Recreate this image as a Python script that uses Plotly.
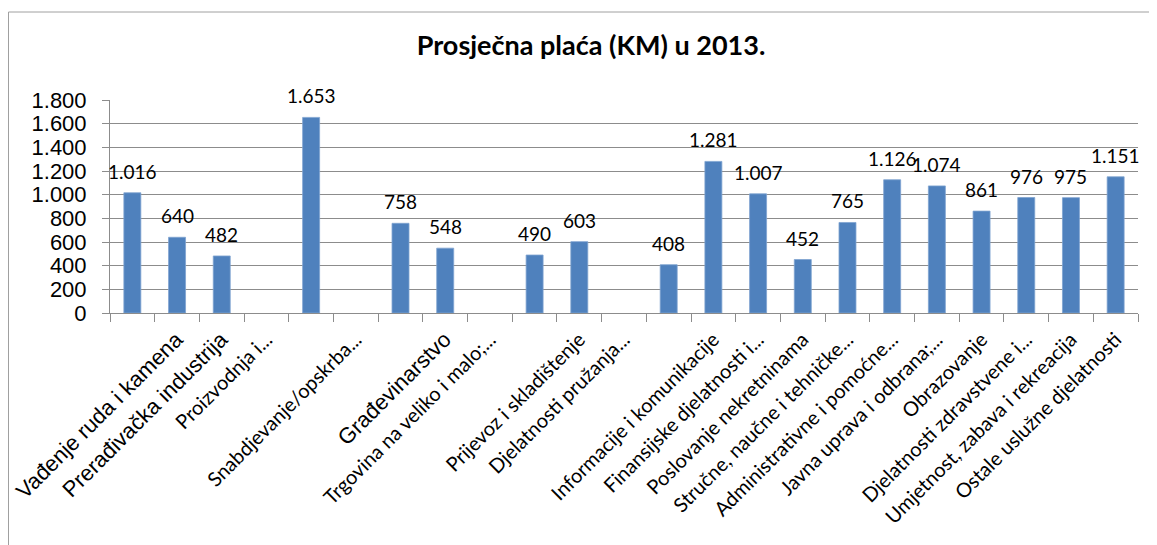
import plotly.graph_objects as go

# ---- data ----
slot_labels = [
    "", "Vađenje ruda i kamena", "Prerađivačka industrija", "Proizvodnja i...", "",
    "Snabdjevanje/opskrba...", "", "Građevinarstvo", "Trgovina na veliko i malo;...", "",
    "Prijevoz i skladištenje", "Djelatnosti pružanja...", "", "Informacije i komunikacije",
    "Finansijske djelatnosti i...", "Poslovanje nekretninama", "Stručne, naučne i tehničke...",
    "Administrativne i pomoćne...", "Javna uprava i odbrana;...", "Obrazovanje",
    "Djelatnosti zdravstvene i...", "Umjetnost, zabava i rekreacija", "Ostale uslužne djelatnosti",
]
values = [
    1016, 640, 482, None, 1653,
    None, 758, 548, None, 490,
    603, None, 408, 1281,
    1007, 452, 765,
    1126, 1074, 861,
    976, 975, 1151,
]
y_ticks = [0, 200, 400, 600, 800, 1000, 1200, 1400, 1600, 1800]
title_text = "Prosječna plaća (KM) u 2013."

slots = list(range(1, len(values) + 1))


def fmt(v):
    return f"{v:,}".replace(",", ".")


def tick_text(lbl):
    # labels containing "đ" were rendered with a fallback (Arial-like) font
    if "đ" in lbl:
        return f'<span style="font-family:Liberation Sans;font-size:22px">{lbl}</span>'
    return lbl


GRID = "#8c8c8c"
BLUE = "#4F81BD"

# page body has an 8px margin, so the figure is sized/offset to compensate
W, H = 1149, 537
L, R, T, B = 102, 19, 92, 232
PW, PH = W - L - R, H - T - B

fig = go.Figure()
fig.add_trace(go.Bar(
    x=slots, y=values,
    marker=dict(color=BLUE, line=dict(color="#7fa3d1", width=0.8)),
    hoverinfo="x+y",
))

annotations = []
for s, v in zip(slots, values):
    if v is None:
        continue
    annotations.append(dict(
        x=s, y=v, xref="x", yref="y", text=fmt(v), showarrow=False,
        yanchor="bottom", yshift=8,
        font=dict(family="Lato", size=19, color="#000000"),
    ))

fig.update_layout(
    width=W, height=H,
    margin=dict(l=L, r=R, t=T, b=B, autoexpand=False),
    paper_bgcolor="white", plot_bgcolor="white",
    separators=",.",
    showlegend=False,
    bargap=0.62,
    title=dict(
        text=f"<b>{title_text}</b>", x=583 / W, xanchor="center",
        y=1 - 38 / H, yanchor="middle",
        font=dict(family="Lato", size=27, color="#000000"),
    ),
    annotations=annotations,
    shapes=[dict(
        type="rect", xref="paper", yref="paper",
        x0=(0.5 - L) / PW, x1=(1170 - L) / PW,
        y0=(T + PH - 560) / PH, y1=(T + PH - 4) / PH,
        line=dict(color="#a0a0a0", width=1), fillcolor="rgba(0,0,0,0)", layer="below",
    )],
)

fig.update_xaxes(
    range=[0.5, len(values) + 0.5],
    tickmode="array", tickvals=slots, ticktext=[tick_text(l) for l in slot_labels],
    tickangle=-45, ticks="", showgrid=False,
    showline=True, linecolor=GRID, linewidth=1,
    tickfont=dict(family="Lato", size=20, color="#000000"),
    ticklabelstandoff=6,
    minor=dict(tickmode="array", tickvals=[s + 0.5 for s in [0] + slots],
               ticks="outside", ticklen=8, tickcolor=GRID, tickwidth=1, showgrid=False),
    zeroline=False,
)
fig.update_yaxes(
    range=[0, 1800], tickmode="array", tickvals=y_ticks, tickformat=",d",
    showgrid=True, gridcolor=GRID, gridwidth=1,
    showline=True, linecolor=GRID, linewidth=1,
    ticks="outside", ticklen=7, tickcolor=GRID,
    tickfont=dict(family="Liberation Sans", size=22, color="#000000"),
    ticklabelstandoff=11,
    zeroline=False,
)

fig.write_html("out.html")
